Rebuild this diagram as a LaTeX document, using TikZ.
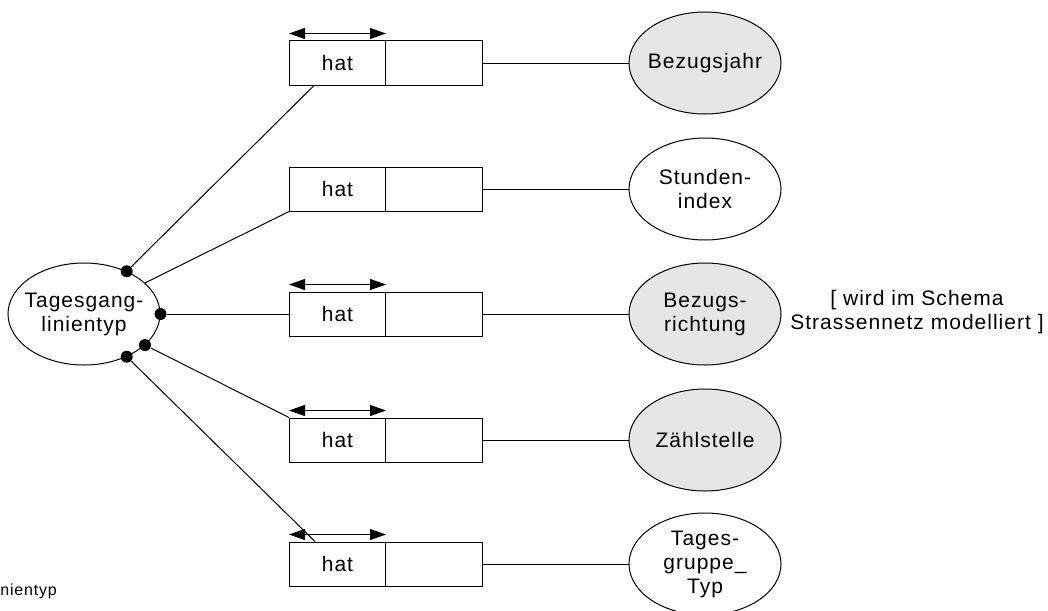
\documentclass[tikz,border=0pt]{standalone}
\usepackage{fontspec}
\setmainfont{Liberation Sans}[LetterSpace=4.8]
\usetikzlibrary{shapes.geometric,arrows.meta}
\definecolor{keygray}{RGB}{230,230,230}
\begin{document}
\begin{tikzpicture}[ x=1pt, y=-1pt, line width=1pt,
  font=\fontsize{21}{24}\selectfont,
  ent/.style={draw,shape=ellipse,minimum width=152pt,minimum height=102pt,inner sep=-12pt,align=center},
  keyent/.style={ent,fill=keygray},
  hatbox/.style={draw,shape=rectangle,minimum width=96pt,minimum height=44pt,inner sep=0pt,anchor=west},
  valbox/.style={draw,shape=rectangle,minimum width=97pt,minimum height=44pt,inner sep=0pt,anchor=west},
  dot/.style={shape=circle,fill=black,inner sep=0pt,minimum size=12pt},
  twoway/.style={{Triangle[length=16pt,width=11pt]}-{Triangle[length=16pt,width=11pt]}},
]
\useasboundingbox (0,0) rectangle (1048,610);

\node[ent] (tgl) at (84,314) {Tagesgang-\\linientyp};

\node[hatbox] (hat1) at (289,63) {hat};
\node[valbox] (val1) at (385,63) {};
\node[hatbox] (hat2) at (289,189) {hat};
\node[valbox] (val2) at (385,189) {};
\node[hatbox] (hat3) at (289,314) {hat};
\node[valbox] (val3) at (385,314) {};
\node[hatbox] (hat4) at (289,440) {hat};
\node[valbox] (val4) at (385,440) {};
\node[hatbox] (hat5) at (289,564) {hat};
\node[valbox] (val5) at (385,564) {};

\node[keyent] (jahr) at (705,63) {Bezugsjahr};
\node[ent] (stunde) at (705,189) {Stunden-\\index};
\node[keyent] (richtung) at (705,314) {Bezugs-\\richtung};
\node[keyent] (zaehl) at (705,440) {Zählstelle};
\node[ent] (tgruppe) at (705,564) {Tages-\\gruppe\_\\Typ};

\node[align=center] (note) at (917,312) {[ wird im Schema\\Strassennetz modelliert ]};
\node[anchor=base west,inner sep=0pt,font=\fontsize{16}{19}\selectfont] (cut) at (0,595) {nientyp};

\node[dot] (d1) at (tgl.45) {};
\node[dot] (d3) at (tgl.east) {};
\node[dot] (d4) at (tgl.-27) {};
\node[dot] (d5) at (tgl.-45) {};

\draw (d1) -- ([xshift=25pt]hat1.south west);
\draw (tgl.27) -- (hat2.south west);
\draw (d3) -- (hat3.west);
\draw (d4) -- (hat4.north west);
\draw (d5) -- ([xshift=26pt]hat5.north west);

\draw[twoway] ([yshift=7pt]hat1.north west) -- ([yshift=7pt]hat1.north east);
\draw[twoway] ([yshift=7pt]hat3.north west) -- ([yshift=7pt]hat3.north east);
\draw[twoway] ([yshift=7pt]hat4.north west) -- ([yshift=7pt]hat4.north east);
\draw[twoway] ([yshift=7pt]hat5.north west) -- ([yshift=7pt]hat5.north east);

\draw (val1.east) -- (jahr);
\draw (val2.east) -- (stunde);
\draw (val3.east) -- (richtung);
\draw (val4.east) -- (zaehl);
\draw (val5.east) -- (tgruppe);

\end{tikzpicture}
\end{document}
